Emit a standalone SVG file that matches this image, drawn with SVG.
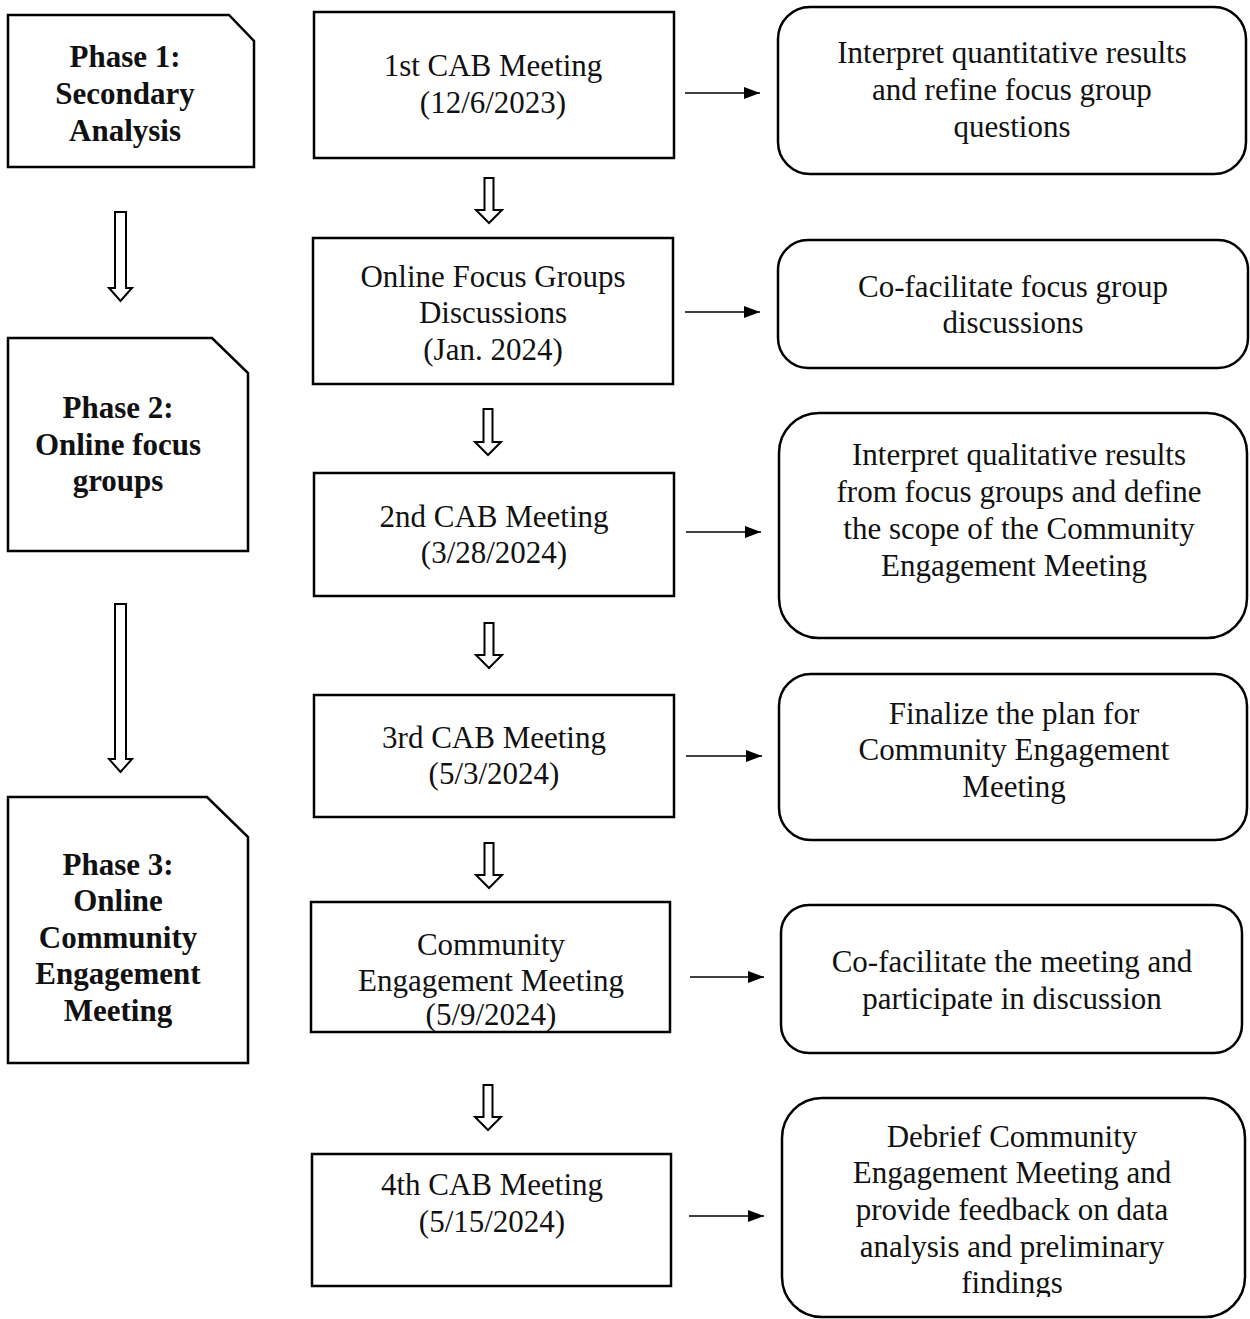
<svg xmlns="http://www.w3.org/2000/svg" width="1250" height="1319" viewBox="0 0 1250 1319">
  <style>
    .box { fill: #fff; stroke: #000; stroke-width: 2.5; }
    .rbox { fill: #fff; stroke: #000; stroke-width: 2.5; }
    .hollow { fill: #fff; stroke: #000; stroke-width: 2; stroke-linejoin: miter; }
    .line { stroke: #000; stroke-width: 1.6; fill: none; }
    text { font-family: "Liberation Serif", "Times New Roman", serif; font-size: 31px; fill: #111; text-anchor: middle; }
    .bold { font-weight: bold; }
  </style>
  <defs>
    <marker id="triW" viewBox="0 0 16 12" refX="16" refY="6" markerWidth="16" markerHeight="12" markerUnits="userSpaceOnUse" orient="auto">
      <path d="M0,0 L16,6 L0,12 Z" fill="#000"/>
    </marker>
    <clipPath id="clip6">
      <rect x="782" y="1098" width="463" height="199"/>
    </clipPath>
  </defs>
  <rect width="1250" height="1319" fill="#fff"/>

  <!-- Phase column -->
  <g id="phase1">
    <path class="box" d="M8,15 H229 L254,41 V167 H8 Z"/>
    <text class="bold" x="125" y="67">Phase 1:</text>
    <text class="bold" x="125" y="104">Secondary</text>
    <text class="bold" x="125" y="141">Analysis</text>
  </g>
  <g id="phase2">
    <path class="box" d="M8,338 H212 L248,373 V551 H8 Z"/>
    <text class="bold" x="118" y="418">Phase 2:</text>
    <text class="bold" x="118" y="455">Online focus</text>
    <text class="bold" x="118" y="491">groups</text>
  </g>
  <g id="phase3">
    <path class="box" d="M8,797 H207 L248,837 V1063 H8 Z"/>
    <text class="bold" x="118" y="875">Phase 3:</text>
    <text class="bold" x="118" y="911">Online</text>
    <text class="bold" x="118" y="948">Community</text>
    <text class="bold" x="118" y="984">Engagement</text>
    <text class="bold" x="118" y="1021">Meeting</text>
  </g>

  <!-- Meeting column -->
  <g id="cab1">
    <rect class="box" x="314" y="12" width="360" height="146"/>
    <text x="493" y="76">1st CAB Meeting</text>
    <text x="493" y="113">(12/6/2023)</text>
  </g>
  <g id="focus-groups">
    <rect class="box" x="313" y="238" width="360" height="146"/>
    <text x="493" y="287">Online Focus Groups</text>
    <text x="493" y="323">Discussions</text>
    <text x="493" y="360">(Jan. 2024)</text>
  </g>
  <g id="cab2">
    <rect class="box" x="314" y="473" width="360" height="123"/>
    <text x="494" y="527">2nd CAB Meeting</text>
    <text x="494" y="563">(3/28/2024)</text>
  </g>
  <g id="cab3">
    <rect class="box" x="314" y="695" width="360" height="122"/>
    <text x="494" y="748">3rd CAB Meeting</text>
    <text x="494" y="784">(5/3/2024)</text>
  </g>
  <g id="community-meeting">
    <rect class="box" x="311" y="902" width="359" height="130"/>
    <text x="491" y="955">Community</text>
    <text x="491" y="991">Engagement Meeting</text>
    <text x="491" y="1025">(5/9/2024)</text>
  </g>
  <g id="cab4">
    <rect class="box" x="312" y="1154" width="359" height="132"/>
    <text x="492" y="1195">4th CAB Meeting</text>
    <text x="492" y="1232">(5/15/2024)</text>
  </g>

  <!-- Activity column -->
  <g id="task1">
    <rect class="rbox" x="778" y="7" width="468" height="167" rx="32"/>
    <text x="1012" y="63">Interpret quantitative results</text>
    <text x="1012" y="100">and refine focus group</text>
    <text x="1012" y="137">questions</text>
  </g>
  <g id="task2">
    <rect class="rbox" x="778" y="240" width="470" height="128" rx="30"/>
    <text x="1013" y="297">Co-facilitate focus group</text>
    <text x="1013" y="333">discussions</text>
  </g>
  <g id="task3">
    <rect class="rbox" x="779" y="413" width="468" height="225" rx="40"/>
    <text x="1019" y="465">Interpret qualitative results</text>
    <text x="1019" y="502">from focus groups and define</text>
    <text x="1019" y="539">the scope of the Community</text>
    <text x="1014" y="576">Engagement Meeting</text>
  </g>
  <g id="task4">
    <rect class="rbox" x="779" y="674" width="468" height="166" rx="32"/>
    <text x="1014" y="724">Finalize the plan for</text>
    <text x="1014" y="760">Community Engagement</text>
    <text x="1014" y="797">Meeting</text>
  </g>
  <g id="task5">
    <rect class="rbox" x="781" y="905" width="461" height="148" rx="28"/>
    <text x="1012" y="972">Co-facilitate the meeting and</text>
    <text x="1012" y="1009">participate in discussion</text>
  </g>
  <g id="task6">
    <rect class="rbox" x="782" y="1098" width="463" height="219" rx="40"/>
    <g clip-path="url(#clip6)">
      <text x="1012" y="1147">Debrief Community</text>
      <text x="1012" y="1183">Engagement Meeting and</text>
      <text x="1012" y="1220">provide feedback on data</text>
      <text x="1012" y="1257">analysis and preliminary</text>
      <text x="1012" y="1293">findings</text>
    </g>
  </g>

  <!-- Connectors -->
  <g id="connectors">
    <!-- phase-to-phase block arrows -->
    <path class="hollow" d="M115,212 H126 V288 H132 L120.5,301 L109,288 H115 Z"/>
    <path class="hollow" d="M115,604 H126 V759 H132 L120.5,772 L109,759 H115 Z"/>

    <!-- meeting-to-meeting block arrows -->
    <path class="hollow" d="M484.5,178 H493.5 V210 H502 L489,223 L476,210 H484.5 Z"/>
    <path class="hollow" d="M483.5,409 H492.5 V442 H501 L488,455 L475,442 H483.5 Z"/>
    <path class="hollow" d="M484.5,623 H493.5 V655 H502 L489,668 L476,655 H484.5 Z"/>
    <path class="hollow" d="M484.5,843 H493.5 V875 H502 L489,888 L476,875 H484.5 Z"/>
    <path class="hollow" d="M483.5,1085 H492.5 V1117 H501 L488,1130 L475,1117 H483.5 Z"/>

    <!-- meeting-to-activity arrows -->
    <line class="line" x1="685" y1="93" x2="760" y2="93" marker-end="url(#triW)"/>
    <line class="line" x1="685" y1="312" x2="760" y2="312" marker-end="url(#triW)"/>
    <line class="line" x1="686" y1="532" x2="761" y2="532" marker-end="url(#triW)"/>
    <line class="line" x1="686" y1="756" x2="762" y2="756" marker-end="url(#triW)"/>
    <line class="line" x1="690" y1="977" x2="764" y2="977" marker-end="url(#triW)"/>
    <line class="line" x1="689" y1="1216" x2="764" y2="1216" marker-end="url(#triW)"/>
  </g>
</svg>
